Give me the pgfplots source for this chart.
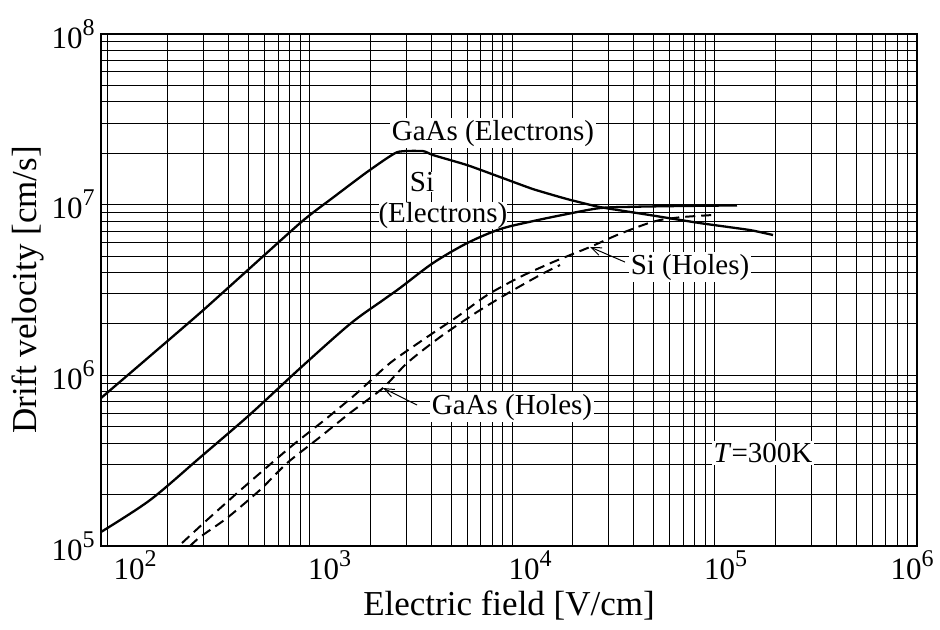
\documentclass[border=0pt]{standalone}
\usepackage{fontspec}
\setmainfont{Liberation Serif}
\usepackage{pgfplots}
\pgfplotsset{compat=1.18}
\usetikzlibrary{arrows.meta}
\newcommand{\tl}[1]{10\raisebox{0.42em}{\fontsize{12}{12}\selectfont #1}}
\begin{document}
\begin{tikzpicture}
\useasboundingbox (-50.5pt,-41.5pt) rectangle (419.5pt,273pt);
\begin{axis}[
  at={(0pt,0pt)}, anchor=south west,
  scale only axis, width=408pt, height=256pt,
  xmode=log, ymode=log,
  xmin=93.4, xmax=1e6, ymin=1e5, ymax=1e8,
  xtick={1e2,1e3,1e4,1e5,1e6},
  xticklabels={{\hspace*{28pt}\tl{2}},{\hspace*{20pt}\tl{3}},{\hspace*{18pt}\tl{4}},{\hspace*{11pt}\tl{5}},{\hspace*{-5pt}\tl{6}}},
  ytick={1e5,1e6,1e7,1e8},
  yticklabels={\tl{5},\tl{6},\tl{7},\tl{8}},
  minor xtick={200,300,400,500,600,700,800,900,2000,3000,4000,5000,6000,7000,8000,9000,20000,30000,40000,50000,60000,70000,80000,90000,200000,300000,400000,500000,600000,700000,800000,900000},
  minor ytick={2e5,3e5,4e5,5e5,6e5,7e5,8e5,9e5,2e6,3e6,4e6,5e6,6e6,7e6,8e6,9e6,2e7,3e7,4e7,5e7,6e7,7e7,8e7,9e7},
  grid=both,
  grid style={black, line width=0.5pt},
  major grid style={black, line width=0.5pt},
  minor grid style={black, line width=0.5pt},
  major tick length=0pt, minor tick length=0pt,
  axis line style={line width=1.3pt},
  tick label style={font=\fontsize{15.5}{15.5}\selectfont},
  xticklabel style={inner sep=2pt},
  yticklabel style={inner sep=3pt},
  xlabel={Electric field [V/cm]},
  ylabel={Drift velocity [cm/s]},
  every axis x label/.style={at={(axis description cs:0.5,0)}, anchor=center, yshift=-30pt, font=\fontsize{17.5}{17.5}\selectfont},
  every axis y label/.style={at={(axis description cs:0,0.5)}, anchor=center, rotate=90, yshift=36.5pt, font=\fontsize{17.5}{17.5}\selectfont},
]
% annotations (drawn first so curves lie over their white backgrounds)
\node[fill=white, inner sep=1pt, font=\fontsize{14.5}{14.5}\selectfont] at (axis cs:8054,2.62e7) {GaAs (Electrons)};
\node[fill=white, inner sep=0pt, font=\fontsize{14.5}{14.5}\selectfont] at (axis cs:3594,1.36e7) {Si};
\node[fill=white, inner sep=0pt, font=\fontsize{14.5}{14.5}\selectfont] at (axis cs:4560,8.65e6) {(Electrons)};
\node[fill=white, inner sep=1pt, font=\fontsize{14.5}{14.5}\selectfont] at (axis cs:75700,4.31e6) {Si (Holes)};
\node[fill=white, inner sep=1pt, font=\fontsize{14.5}{14.5}\selectfont] at (axis cs:10000,6.52e5) {GaAs (Holes)};
\node[fill=white, inner sep=1pt, font=\fontsize{14.5}{14.5}\selectfont] at (axis cs:173600,3.51e5) {\textit{T}=300K};
% GaAs electrons
\addplot[black, line width=1.15pt, smooth, tension=0.3] coordinates {
(93.4,7.36e5) (288,2.32e6) (898,7.80e6) (1306,1.10e7) (1923,1.553e7) (2705,2.03e7)
(3635,2.06e7) (4072,1.953e7) (5995,1.707e7) (8724,1.452e7) (12690,1.234e7) (18690,1.079e7)
(27200,9.68e6) (48030,8.69e6) (84800,7.80e6) (149700,7.10e6) (194500,6.64e6)};
% Si electrons
\addplot[black, line width=1.15pt, smooth, tension=0.5] coordinates {
(93.4,1.208e5) (163.1,1.858e5) (288,3.30e5) (508.4,5.9e5) (898,1.10e6) (1585,2.0e6)
(2307,2.76e6) (2799,3.25e6) (4072,4.55e6) (5995,5.95e6) (8724,7.19e6) (12690,8.01e6)
(18690,8.81e6) (27200,9.55e6) (39590,9.72e6) (67530,9.82e6) (129100,9.9e6)};
% Si holes
\addplot[black, line width=1.0pt, dash pattern=on 5pt off 3pt, smooth, tension=0.4] coordinates {
(234.6,1.041e5) (311.7,1.42e5) (438.5,2.04e5) (616.8,2.90e5) (828.8,3.91e5) (1220,5.62e5)
(1716,7.88e5) (2497,1.18e6) (3803,1.675e6) (5350,2.20e6) (7523,2.95e6) (10950,3.77e6)
(15940,4.61e6) (24280,5.65e6) (33000,6.64e6) (44360,7.60e6) (53810,8.13e6) (69910,8.47e6) (98310,8.70e6)};
% GaAs holes
\addplot[black, line width=1.0pt, dash pattern=on 5pt off 3pt, smooth, tension=0.4] coordinates {
(257,1.0e5) (288,1.129e5) (391.4,1.459e5) (569.6,2.13e5) (774.3,3.06e5) (1127,4.35e5)
(1585,6.02e5) (2307,8.43e5) (3030,1.18e6) (4410,1.675e6) (6717,2.35e6) (9775,3.08e6)
(13750,3.87e6) (17260,4.43e6)};
\draw[line width=0.5pt, -{Straight Barb[length=5pt,width=4pt]}] (axis cs:36140,4.61e6) -- (axis cs:24280,5.65e6);
\draw[line width=0.5pt, -{Straight Barb[length=5pt,width=4pt]}] (axis cs:3396,6.70e5) -- (axis cs:2307,8.43e5);
\end{axis}
\end{tikzpicture}
\end{document}
